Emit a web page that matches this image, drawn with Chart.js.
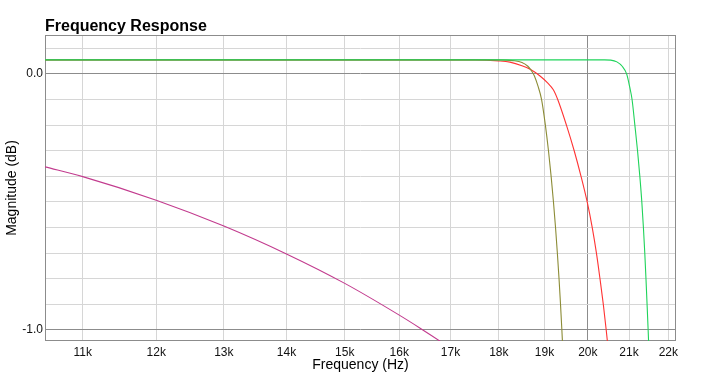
<!DOCTYPE html>
<html><head><meta charset="utf-8">
<script src="https://cdn.jsdelivr.net/npm/chart.js@4/dist/chart.umd.min.js"></script>
<style>html,body{margin:0;padding:0;background:#fff;overflow:hidden;}</style>
</head><body>
<canvas id="c" width="709" height="380" style="display:block;width:709px;height:380px"></canvas>
<script>
const chartTitle = 'Frequency Response';
const xAxisTitle = 'Frequency (Hz)';
const yAxisTitle = 'Magnitude (dB)';
const xMin = 10520, xMax = 22200;
const yMin = -1.043, yMax = 0.152;
const xTickValues = [11000,12000,13000,14000,15000,16000,17000,18000,19000,20000,21000,22000];
const yTickValues = [-1.0,-0.9,-0.8,-0.7,-0.6,-0.5,-0.4,-0.3,-0.2,-0.1,0.0,0.1];
const yLabelled = [0.0, -1.0];
const xHighlight = [20000];

const greenFreq = [10520, 20400, 20550, 20700, 20830, 20940, 21015, 21075, 21145, 21212, 21270, 21320, 21360, 21395, 21425, 21453, 21480, 21505];
const greenDb   = [0.055, 0.055, 0.054, 0.047, 0.03, 0.0, -0.05, -0.1, -0.2, -0.3, -0.4, -0.5, -0.6, -0.7, -0.8, -0.9, -1.0, -1.1];

const oliveFreq = [10520, 18000, 18300, 18500, 18630, 18700, 18775, 18855, 18935, 19020, 19090, 19150, 19203, 19250, 19292, 19330, 19364, 19395, 19424];
const oliveDb   = [0.055, 0.055, 0.052, 0.045, 0.03, 0.015, -0.008, -0.048, -0.1, -0.2, -0.3, -0.4, -0.5, -0.6, -0.7, -0.8, -0.9, -1.0, -1.1];

const redFreq = [10520, 17500, 18000, 18240, 18500, 18680, 18900, 19070, 19200, 19300, 19500, 19680, 19840, 19985, 20105, 20205, 20290, 20370, 20440, 20505];
const redDb   = [0.055, 0.055, 0.051, 0.046, 0.032, 0.018, -0.008, -0.035, -0.062, -0.1, -0.2, -0.3, -0.4, -0.5, -0.6, -0.7, -0.8, -0.9, -1.0, -1.1];

const purpleFreq = [10520, 11000, 12000, 13000, 14000, 15000, 16000, 16400, 16800, 17000];
const purpleDb   = [-0.363, -0.401, -0.493, -0.594, -0.703, -0.818, -0.942, -0.993, -1.045, -1.072];

function pts(xs, ys) { return xs.map((x, i) => ({x: x, y: ys[i]})); }
const near = (a, b) => Math.abs(a - b) < 1e-6;
const FONT = '"Liberation Sans", Arial, Helvetica, sans-serif';

const frame = {
  id: 'frame',
  beforeDatasetsDraw(chart) {
    const {ctx, chartArea: a} = chart;
    ctx.save();
    ctx.strokeStyle = '#8c8c8c';
    ctx.lineWidth = 1;
    ctx.strokeRect(Math.round(a.left) + 0.5, Math.round(a.top) + 0.5, Math.round(a.right - a.left) - 1, Math.round(a.bottom - a.top) - 1);
    ctx.restore();
  },
  afterDraw(chart) {
    const {ctx, chartArea: a} = chart;
    ctx.save();
    ctx.fillStyle = '#000';
    ctx.font = 'bold 16px ' + FONT;
    ctx.textBaseline = 'alphabetic';
    ctx.textAlign = 'left';
    ctx.fillText(chartTitle, a.left, 31);
    ctx.restore();
  }
};

const ds = (label, xs, ys, color) => ({
  label, data: pts(xs, ys), borderColor: color, backgroundColor: color,
  borderWidth: 1.1, pointRadius: 0, fill: false, cubicInterpolationMode: 'monotone'
});

new Chart(document.getElementById('c'), {
  type: 'line',
  data: { datasets: [
    ds('green', greenFreq, greenDb, '#1fd35a'),
    ds('olive', oliveFreq, oliveDb, '#8c8c36'),
    ds('red', redFreq, redDb, '#ff3333'),
    ds('purple', purpleFreq, purpleDb, '#c23b8e')
  ]},
  options: {
    responsive: false, animation: false, devicePixelRatio: 1,
    layout: { padding: { top: 35, right: 33, left: 0, bottom: 0 } },
    plugins: { legend: { display: false }, title: { display: false }, tooltip: { enabled: false } },
    scales: {
      x: {
        type: 'logarithmic', min: xMin, max: xMax,
        afterBuildTicks(s) { s.ticks = xTickValues.map(v => ({value: v})); },
        afterFit(s) { s.height = 39; },
        grid: { drawTicks: false, color: c => xHighlight.some(v => near(v, c.tick.value)) ? '#8c8c8c' : '#d6d6d6', lineWidth: 1 },
        border: { display: false },
        ticks: { autoSkip: false, maxRotation: 0, padding: 4, color: '#111', font: { family: FONT, size: 12 },
                 callback: v => (v / 1000) + 'k' },
        title: { display: true, text: xAxisTitle, color: '#000', font: { family: FONT, size: 14 }, padding: { top: 0, bottom: 6.6 } }
      },
      y: {
        type: 'linear', min: yMin, max: yMax,
        afterBuildTicks(s) { s.ticks = yTickValues.map(v => ({value: v})); },
        afterFit(s) { s.width = 45; },
        grid: { drawTicks: false, color: c => yLabelled.some(v => near(v, c.tick.value)) ? '#8c8c8c' : '#d6d6d6', lineWidth: 1 },
        border: { display: false },
        ticks: { autoSkip: false, padding: 2, color: '#111', font: { family: FONT, size: 12 },
                 callback: v => yLabelled.some(t => near(t, v)) ? Number(v).toFixed(1) : '' },
        title: { display: true, text: yAxisTitle, color: '#000', font: { family: FONT, size: 14 }, padding: { top: 4, bottom: 0 } }
      }
    }
  },
  plugins: [frame]
});
</script>
</body></html>
